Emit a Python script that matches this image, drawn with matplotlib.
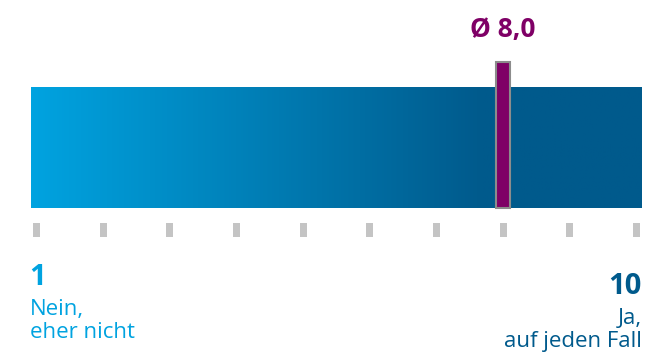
import numpy as np
import matplotlib.pyplot as plt
from matplotlib.colors import LinearSegmentedColormap

# Skala 1..10, Mittelwert
skala = np.arange(1, 11)
mittelwert = 8.0
label_links = ["1", "Nein,\neher nicht"]
label_rechts = ["10", "Ja,\nauf jeden Fall"]

hell = "#00A3E0"
dunkel = "#005A8C"
lila = "#7F0066"

plt.rcParams['font.family'] = ['Open Sans', 'DejaVu Sans']

fig = plt.figure(figsize=(6.56, 3.58), dpi=100)
ax = fig.add_axes([0, 0, 1, 1])
px = 600 / 9  # pixel pro skalenschritt
ax.set_xlim(1 - 36.5 / px, 10 + 19.5 / px)
ax.set_ylim(358, 0)
ax.axis('off')

# Verlaufsbalken
x0, x1 = 0.92, 10.07
xg = 7.7  # ende des verlaufs
cmap = LinearSegmentedColormap.from_list('v', [(0, hell), ((xg - x0) / (x1 - x0), dunkel), (1, dunkel)])
grad = np.linspace(0, 1, 512).reshape(1, -1)
ax.imshow(grad, cmap=cmap, aspect='auto', extent=(x0, x1, 208, 87), zorder=1)

# Markierung Mittelwert
w = 14 / px
ax.add_patch(plt.Rectangle((mittelwert - w / 2, 62), w, 146, facecolor=lila,
                           edgecolor='#8C8C8C', linewidth=1.5, zorder=3))
ax.text(mittelwert, 30, "Ø 8,0", color=lila, fontsize=19, fontweight='bold',
        ha='center', va='center')

# Skalenstriche
for s in skala:
    ax.add_patch(plt.Rectangle((s - 3.5 / px, 223), 7 / px, 14, facecolor='#C4C4C4',
                               edgecolor='none', zorder=2))

# Beschriftungen
ax.text(skala[0] - 7 / px, 285, label_links[0], color=hell, fontsize=21, fontweight='bold',
        ha='left', va='baseline')
ax.text(skala[0] - 7 / px, 338, label_links[1], color=hell, fontsize=16,
        ha='left', va='baseline', linespacing=1.15)
ax.text(skala[-1] + 5 / px, 294, label_rechts[0], color=dunkel, fontsize=21, fontweight='bold',
        ha='right', va='baseline')
ax.text(skala[-1] + 5 / px, 347, label_rechts[1], color=dunkel, fontsize=16,
        ha='right', va='baseline', linespacing=1.15, multialignment='right')

fig.savefig('out.png', dpi=100)
